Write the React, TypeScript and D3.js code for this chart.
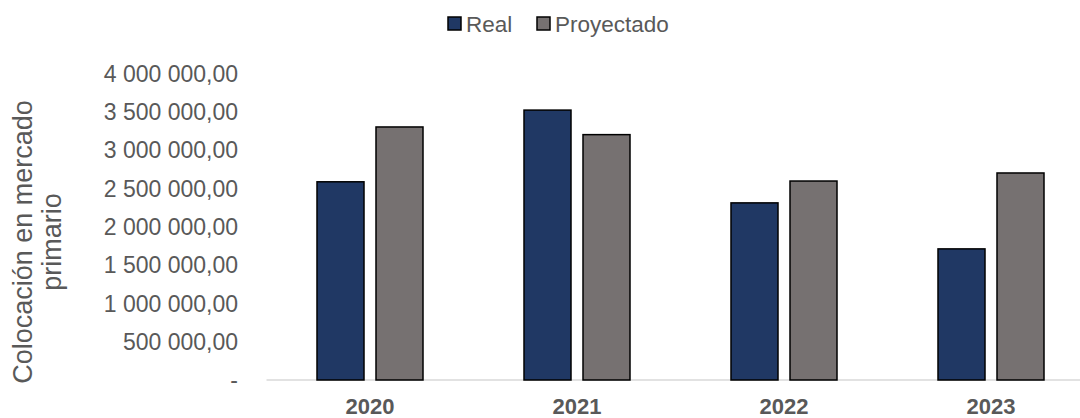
import React, { useEffect, useRef } from 'react';
import * as d3 from 'd3';

const years = ['2020', '2021', '2022', '2023'];
const seriesNames = ['Real', 'Proyectado'];
const realValues = [2585000, 3520000, 2310000, 1710000];
const proyectadoValues = [3300000, 3200000, 2595000, 2700000];
const tickValues = [0, 500000, 1000000, 1500000, 2000000, 2500000, 3000000, 3500000, 4000000];
const titleLines = ['Colocación en mercado', 'primario'];

const colors: Record<string, string> = { Real: '#203864', Proyectado: '#767171' };

const fmt = (v: number) => {
  if (v === 0) return '-';
  const s = d3.format(',.2f')(v);
  return s.replace(/,/g, ' ').replace('.', ',');
};

const App = () => {
  const ref = useRef<SVGSVGElement>(null);

  useEffect(() => {
    const width = 1080;
    const height = 418;
    const svg = d3.select(ref.current);
    svg.selectAll('*').remove();
    svg.attr('width', width).attr('height', height);

    const font = 'Liberation Sans, Arial, sans-serif';
    const textColor = '#595959';

    const y = d3.scaleLinear().domain([0, 4000000]).range([380, 73.3]);
    const x0 = d3.scaleBand().domain(years).range([266.5, 1094.5]).padding(0);
    const x1 = d3.scaleBand().domain(seriesNames).range([50.5, 156.5]).paddingInner(12 / 59).paddingOuter(0);

    // axis line
    svg.append('line')
      .attr('x1', 266.5).attr('x2', 1094.5)
      .attr('y1', y(0)).attr('y2', y(0))
      .attr('stroke', '#d9d9d9').attr('stroke-width', 1.5);

    // tick labels
    svg.append('g')
      .selectAll('text')
      .data(tickValues)
      .join('text')
      .attr('x', 238)
      .attr('y', d => y(d))
      .attr('dy', '0.36em')
      .attr('text-anchor', 'end')
      .attr('font-family', font)
      .attr('font-size', 23)
      .attr('fill', textColor)
      .text(d => fmt(d));

    // bars
    const rows = years.map((yr, i) => ({ year: yr, Real: realValues[i], Proyectado: proyectadoValues[i] }));
    svg.append('g')
      .selectAll('g')
      .data(rows)
      .join('g')
      .attr('transform', d => `translate(${x0(d.year)},0)`)
      .selectAll('rect')
      .data(d => seriesNames.map(s => ({ key: s, value: (d as any)[s] as number })))
      .join('rect')
      .attr('x', d => x1(d.key)!)
      .attr('y', d => y(d.value))
      .attr('width', x1.bandwidth())
      .attr('height', d => y(0) - y(d.value))
      .attr('fill', d => colors[d.key])
      .attr('stroke', '#000')
      .attr('stroke-width', 1.5);

    // category labels
    svg.append('g')
      .selectAll('text')
      .data(years)
      .join('text')
      .attr('x', d => x0(d)! + x0.bandwidth() / 2)
      .attr('y', 413.5)
      .attr('text-anchor', 'middle')
      .attr('font-family', font)
      .attr('font-weight', 'bold')
      .attr('font-size', 22)
      .attr('fill', textColor)
      .text(d => d);

    // y title
    svg.append('g')
      .selectAll('text')
      .data(titleLines)
      .join('text')
      .attr('transform', (d, i) => `translate(${32 + i * 29},242) rotate(-90)`)
      .attr('text-anchor', 'middle')
      .attr('font-family', font)
      .attr('font-size', 27)
      .attr('fill', textColor)
      .text(d => d);

    // legend
    const legendX = [448, 537];
    const leg = svg.append('g')
      .selectAll('g')
      .data(seriesNames)
      .join('g')
      .attr('transform', (d, i) => `translate(${legendX[i]},0)`);
    leg.append('rect')
      .attr('x', 0).attr('y', 17)
      .attr('width', 13).attr('height', 13)
      .attr('fill', d => colors[d])
      .attr('stroke', '#000')
      .attr('stroke-width', 1.5);
    leg.append('text')
      .attr('x', 18).attr('y', 32)
      .attr('font-family', font)
      .attr('font-size', 22.5)
      .attr('fill', textColor)
      .text(d => d);
  }, []);

  return <svg ref={ref} style={{ position: 'absolute', left: 0, top: 0, background: '#fff' }}></svg>;
};

export default App;
